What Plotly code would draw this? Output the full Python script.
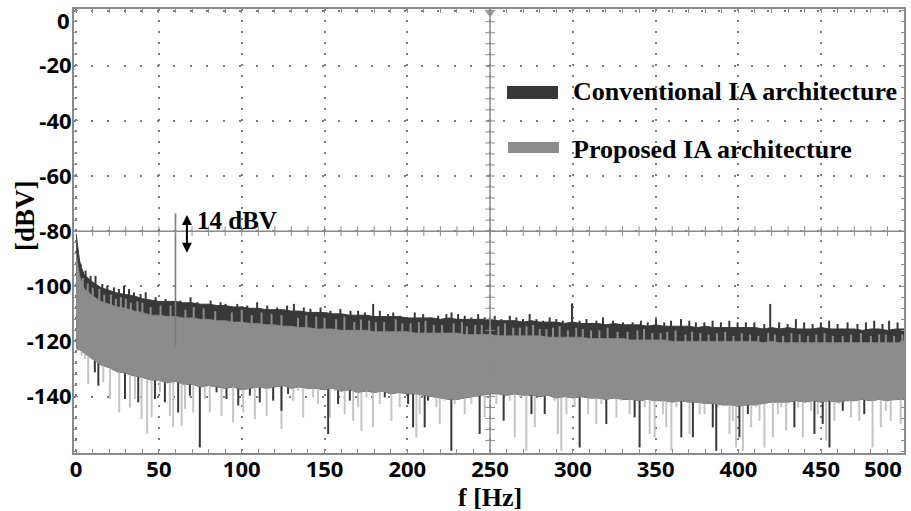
import plotly.graph_objects as go

# ---------------- data ----------------
freq = [0, 1, 2, 3, 4,
        5, 10, 15, 20, 25, 30, 35, 40, 45, 50,
        55, 60, 65, 70, 75, 80, 85, 90, 95, 100,
        105, 110, 115, 120, 125, 130, 135, 140, 145, 150,
        155, 160, 165, 170, 175, 180, 185, 190, 195, 200,
        205, 210, 215, 220, 225, 230, 235, 240, 245, 250,
        255, 260, 265, 270, 275, 280, 285, 290, 295, 300,
        305, 310, 315, 320, 325, 330, 335, 340, 345, 350,
        355, 360, 365, 370, 375, 380, 385, 390, 395, 400,
        405, 410, 415, 420, 425, 430, 435, 440, 445, 450,
        455, 460, 465, 470, 475, 480, 485, 490, 495, 500]

# bulk upper edge of the conventional IA spectrum (dBV)
conv_top = [-81, -87, -90.5, -93, -94.5,
            -96, -98.5, -100.5, -101.5, -102.5, -103, -103.5, -104.5, -105, -105.5,
            -105.5, -105.5, -106, -106, -106.5, -106.5, -107, -107, -107.5, -107.5,
            -108, -108, -108.5, -108.5, -108.5, -109, -109, -109.5, -109.5, -109.5,
            -110, -110, -110.5, -110.5, -110.5, -111, -111, -111, -111, -111.5,
            -111.5, -111.5, -111.5, -112, -111.5, -112, -112, -112, -112, -112,
            -112.5, -112.5, -112.5, -113, -112.5, -113, -113, -113, -113.5, -113,
            -113.5, -113.5, -113.5, -114, -113.5, -114, -114, -114, -114.5, -114,
            -114.5, -114.5, -114.5, -114.5, -115, -114.5, -115, -115, -115, -115,
            -115, -115, -115.5, -115, -115.5, -115, -115.5, -115.5, -115.5, -115,
            -115.5, -115.5, -115.5, -115.5, -116, -115.5, -115.5, -116, -115.5, -115.5]

# bulk upper edge of the proposed IA spectrum (dBV)
prop_top = [-88, -93, -96, -98, -99.5,
            -101, -103.5, -105.5, -106.5, -107.5, -108, -109, -109.5, -110.5, -110.5,
            -111, -111, -111.5, -111.5, -112, -112, -112.5, -112.5, -113, -113,
            -113.5, -113.5, -114, -114, -114.5, -114.5, -115, -115, -115.5, -115.5,
            -115.5, -116, -116, -116, -116, -116.5, -116.5, -116.5, -116.5, -116.5,
            -117, -117, -117, -117, -117, -117, -117.5, -117.5, -117.5, -117.5,
            -118, -118, -118, -118, -118, -118, -118.5, -118.5, -118.5, -118.5,
            -118.5, -119, -119, -119, -119, -119, -119.5, -119.5, -119.5, -119.5,
            -119.5, -120, -120, -120, -120, -120, -120, -120, -120, -120,
            -120, -120, -120.5, -120, -120.5, -120.5, -120.5, -120.5, -120.5, -120.5,
            -120.5, -120.5, -120.5, -120.5, -120.5, -120.5, -120.5, -120.5, -120.5, -120.5]

# lower dense edge of the noise floor (dBV)
prop_bot = [-122.5, -123, -123, -123.5, -124,
            -124.5, -126.5, -128.5, -129.5, -131, -131.5, -132.5, -133, -134, -134,
            -135, -134.5, -135.5, -135.5, -136.5, -136, -136.5, -137, -136.5, -137.5,
            -137, -136.5, -137, -136.5, -136, -137, -136.5, -137, -137, -137.5,
            -137, -138, -137.5, -138.5, -138, -138.5, -138, -139, -138.5, -139,
            -139, -139.5, -140, -140.5, -141, -141, -140.5, -140, -139.5, -139,
            -139, -139.5, -139, -139.5, -139.5, -140, -139.5, -140.5, -140, -140.5,
            -140, -140.5, -140.5, -141, -140.5, -141, -141, -141.5, -141, -141.5,
            -141.5, -142, -141.5, -142, -142, -142.5, -142.5, -143, -143, -143.5,
            -143, -143, -142.5, -142, -142, -142, -141.5, -142, -141.5, -142,
            -141.5, -142, -141.5, -141.5, -141, -141.5, -141, -141.5, -141, -141]

# upward bins of the conventional IA spectrum (incl. the 300 Hz / 419 Hz lines)
conv_up_f = [2.7, 5.7, 8.7, 11.7, 15.8, 18.8, 22.8, 25.8, 28.9, 31.9, 34.9, 38.9, 42, 48,
             54, 63, 69.1, 73.1, 81.2, 87.2, 90.2, 97.3, 103.3, 109.3, 115.4, 121.4, 127.4,
             131.5, 137.5, 141.5, 147.6, 153.6, 159.6, 165.7,
             170.3, 174.4, 179.4, 183.4, 188.4, 191.5, 195.5, 199.5, 204.5, 209.6, 213.6,
             218.6, 223.6, 226.7, 230.7, 234.7, 238.7, 242.8, 246.8, 252.8, 256.8, 261.9,
             265.9, 269.9, 273.9, 278, 282, 286, 290, 294, 299.5, 304.1, 308.2, 314.2,
             318.2, 324.2, 330.3,
             336.1, 341.1, 345.2, 350.2, 355.2, 359.3, 365.3, 370.3, 374.3, 379.4, 384.4,
             389.4, 394.5, 399.5, 404.5, 409.6, 415.6, 419.2, 424.6, 429.7, 434.7, 439.7,
             444.8, 449.8, 454.8, 459.9, 465.9, 471.9, 477, 482, 487, 491, 496.1]
conv_up_db = [-91.9, -94.3, -96.2, -96.2, -99.2, -99.8, -100.4, -101, -99.8, -101, -102.2,
              -102.8, -102.2, -104, -104.6, -105.2, -104, -105.8, -105.2, -105.8, -106.4,
              -106.4, -107, -105.8, -107, -107.7, -107, -106.4, -107.7, -108.2, -107.7,
              -108.9, -108.2, -108.9,
              -108.9, -109.5, -106.4, -108.9, -110.1, -109.5, -110.7, -111.3, -109.5, -110.1,
              -111.3, -110.7, -110.1, -109.5, -110.1, -110.7, -111.3, -110.1, -111.3, -110.7,
              -111.9, -110.7, -111.3, -111.9, -110.1, -111.9, -112.5, -111.3, -111.9, -112.5,
              -106.2, -112.5, -111.9, -112.5, -111.3, -112.5, -113.1,
              -113.1, -112.5, -113.1, -111.9, -113.1, -112.5, -111.9, -112.5, -113.1, -113.1,
              -112.5, -113.1, -112.5, -113.1, -113.1, -113.1, -113.7, -106.4, -113.1, -113.7,
              -111.9, -113.1, -113.7, -113.1, -112.5, -113.7, -113.1, -113.7, -113.1, -112.5,
              -113.7, -112.5, -113.1]

# upward bins of the proposed IA spectrum (grey strokes inside the dark band)
prop_up_f = [4, 7, 10, 14, 17, 21, 24, 27, 30, 33, 37, 40, 45, 51, 57, 66, 71, 77, 84, 94,
             100, 106, 112, 118, 124, 134, 139, 145, 150, 157, 162, 168, 172, 177, 181, 186,
             193, 197, 202, 207, 211, 216, 221, 228, 233, 236, 241, 245, 250, 255, 259, 264,
             268, 272, 276, 280, 284, 288, 292, 297, 302, 306, 311, 316, 321, 327, 333, 339,
             343, 348, 353, 357, 362, 368, 372, 377, 382, 387, 392, 397, 402, 407, 412, 418,
             422, 427, 432, 437, 442, 447, 452, 457, 463, 468, 474, 480, 485, 489, 494, 499]
prop_up_db = [-97, -99, -100.5, -101, -103, -103, -104.5, -104, -104.5, -106, -105.5,
              -106, -107.5, -107, -107, -108.5, -107.5, -108, -109, -109.5, -108.5, -110.5,
              -109.5, -110, -110.5, -111.5, -110.5, -111, -111.5, -112, -111, -113, -112,
              -112.5, -113, -113, -112, -113.5, -113.5, -113, -112.5, -114, -114, -113.5,
              -113, -114.5, -114, -114, -114.5, -114.5, -113.5, -115, -115, -114.5, -114,
              -115.5, -115.5, -115, -114.5, -116, -115, -115.5, -116, -116, -115, -116.5,
              -116.5, -116, -115.5, -117, -117, -116.5, -116, -117.5, -116.5, -117, -117.5,
              -117, -116.5, -118, -117, -117.5, -118, -117, -117.5, -118, -117, -117.5,
              -118, -117.5, -117, -118, -118, -117.5, -117, -118, -117.5, -117.5, -118,
              -117.5]

# deep downward bins, conventional IA (dark)
conv_dip_f = [11.3, 13.4, 29.5, 37.5, 47.6, 53.6, 61.6, 68.7, 74.7, 84.8, 90.8, 97.9,
              104.9, 110.9, 119, 124, 128, 141.1, 152.2, 158.2, 165.3, 178.3, 186.4,
              198.5, 200.5, 203.5, 210.5, 212.5, 216.6, 224.6, 226.6, 236.7, 243.7,
              251.8, 258.2, 260.9, 275, 283, 286, 304.1, 320.2, 332.3, 337.3, 340.3,
              365.5, 372.5, 374.5, 382.5, 384.5, 386.6, 390.6, 400.6, 405.7, 417.7,
              433.8, 445.9, 450.9, 455, 463, 476]
conv_dip_db = [-131.2, -136.1, -140.9, -142.1, -140.9, -142.1, -145.8, -139.7, -158.5,
               -138.5, -140.9, -143.3, -139.7, -142.1, -141.5, -145.2, -139.1, -134.3,
               -153.6, -142.7, -141.5, -134.3, -140.3, -137.9, -142.7, -151.2, -151.2,
               -141.5, -134.3, -137.9, -159.7, -137.9, -153.6, -139.1, -148.8, -135.5,
               -146.4, -146.4, -135.5, -158.5, -150, -135.5, -147.6, -158.5, -154.8,
               -154.8, -137.9, -142.7, -151.2, -159.7, -136.7, -154.8, -146.4, -139.1,
               -151.2, -153.6, -150, -158.5, -145.2, -146.4]

# deep downward bins, proposed IA (light)
prop_dip_f = [3.3, 5.3, 7.3, 16.4, 20.4, 26.0, 32.5, 35.5, 39.5, 42.9, 45.6, 50.6,
              56.6, 58.6, 63.7, 65.7, 70.7, 77.7, 80.7, 87.8, 94.8, 100.9, 107.9, 115,
              124, 131.1, 134.1, 137.1, 143.1, 146.1, 149.2, 153.2, 156.2, 160.2,
              162.2, 167.3, 170.3, 172.3, 175.3, 179.3, 183.4, 188.4, 190.4, 195.4,
              205.5, 207.5, 217.6, 219.6, 222.6, 228.6, 231.7, 234.7, 238.7, 241.7,
              246.7, 253.8, 255.8, 261.9, 264.9, 267.9, 270.9, 271.9, 277, 280, 289,
              291, 293, 296.1, 298.1, 301.1, 306.1, 309.2, 312.2, 314.2, 317.2, 323.2,
              326.3, 329.3, 334.3, 343.4, 346.4, 349.4, 351.4, 354.4, 356.4, 359.5,
              362.5, 368.5, 370.5, 376.6, 377.5, 379.5, 387.6, 391.6, 394.6, 396.6,
              398.6, 402.7, 407.7, 410.7, 412.7, 415.7, 420.8, 423.8, 425.8, 428.8,
              430.8, 435.9, 438.9, 440.9, 443.9, 447.9, 453, 458, 461, 466, 468, 471,
              473, 478, 481, 483, 486, 489, 492, 495, 498]
prop_dip_db = [-125.2, -126.4, -135.5, -134.9, -140.9, -145.8, -144, -140.9, -148.2,
               -153.6, -147.6, -138.5, -147, -151.2, -150.6, -144.5, -145.8, -140.9,
               -145.8, -147, -149.4, -145.8, -148.2, -147, -151.8, -141.5, -137.9,
               -147.6, -140.3, -142.7, -134.3, -147.6, -137.9, -136.7, -146.4, -148.8,
               -143.9, -152.4, -140.3, -151.2, -142.7, -135.5, -148.8, -143.9, -154.8,
               -146.4, -143.9, -150, -141.5, -142.7, -140.3, -146.4, -142.7, -140.3,
               -147.6, -142.7, -139.1, -141.5, -154.8, -140.3, -137.9, -159.7, -151.2,
               -136.7, -141.5, -153.6, -159.7, -146.4, -140.3, -143.9, -139.1, -146.4,
               -137.9, -150, -142.7, -140.3, -147.6, -141.5, -146.4, -143.9, -153.6,
               -154.8, -141.5, -146.4, -151.2, -159.7, -143.9, -141.5, -153.6, -146.4,
               -141.5, -146.4, -143.9, -141.5, -153.6, -148.8, -158.5, -159.7, -151.2,
               -143.9, -148.8, -158.5, -154.8, -146.4, -143.9, -152.4, -140.3, -143.9,
               -154.8, -140.3, -145.2, -146.4, -156, -148.8, -142.7, -140.3, -147.6,
               -139.1, -148.8, -140.3, -158.5, -141.5, -151.2, -145.2, -148.8, -141.5,
               -150]

# 60 Hz interference tone
tone_f = [60]
tone_db = [-73.6]

x_ticks = [0, 50, 100, 150, 200, 250, 300, 350, 400, 450, 500]
y_ticks = [0, -20, -40, -60, -80, -100, -120, -140]

# ---------------- styling constants ----------------
DARK = "#383838"
GRAY = "#8c8c8c"
LIGHT = "#c4c4c4"
FRAME = "#8a8a8a"
SPIKE_BASE = -122  # lies inside the grey body, hidden under it
W, H = 911, 511
ML, MR, MT, MB = 74, 7, 9, 58
PW, PH = W - ML - MR, H - MT - MB


def px(xp):
    return (xp - ML) / PW


def py(yp):
    return 1 - (yp - MT) / PH


def segs(fs, tips, base):
    xs, ys = [], []
    for f, t in zip(fs, tips):
        xs += [f, f, None]
        ys += [base, t, None]
    return xs, ys


def stroke_trace(fs, tips, color, width):
    xs, ys = segs(fs, tips, SPIKE_BASE)
    return go.Scatter(x=xs, y=ys, mode="lines", line=dict(color=color, width=width),
                      hoverinfo="skip", showlegend=False)


fig = go.Figure()

fig.add_trace(stroke_trace(conv_up_f, conv_up_db, DARK, 2))
fig.add_trace(go.Scatter(x=freq + freq[::-1], y=conv_top + prop_bot[::-1], fill="toself",
                         fillcolor=DARK, mode="lines", line=dict(color=DARK, width=1),
                         name="Conventional IA architecture", showlegend=False))
fig.add_trace(stroke_trace(prop_up_f, prop_up_db, GRAY, 2))
fig.add_trace(stroke_trace(prop_dip_f, prop_dip_db, LIGHT, 2))
fig.add_trace(stroke_trace(conv_dip_f, conv_dip_db, DARK, 2))
fig.add_trace(go.Scatter(x=freq + freq[::-1], y=prop_top + prop_bot[::-1], fill="toself",
                         fillcolor=GRAY, mode="lines", line=dict(color=GRAY, width=0.8),
                         name="Proposed IA architecture", showlegend=False))
fig.add_trace(stroke_trace(tone_f, tone_db, "#7a7a7a", 1.6))

# centre cross-hair tick marks
fig.add_trace(go.Scatter(x=list(range(10, 500, 10)), y=[-80] * 49, mode="markers",
                         marker=dict(symbol="line-ns", size=7, line=dict(color=FRAME, width=1)),
                         hoverinfo="skip", showlegend=False))
fig.add_trace(go.Scatter(x=[250] * 39, y=list(range(-156, 0, 4)), mode="markers",
                         marker=dict(symbol="line-ew", size=7, line=dict(color=FRAME, width=1)),
                         hoverinfo="skip", showlegend=False))
fig.add_trace(go.Scatter(x=[250], y=[-0.6], mode="markers", cliponaxis=False,
                         marker=dict(symbol="triangle-down", size=10, color="#9a9a9a"),
                         hoverinfo="skip", showlegend=False))

# centre lines
fig.add_shape(type="line", x0=250, x1=250, y0=0, y1=1, xref="x", yref="paper",
              line=dict(color=FRAME, width=1.5), layer="above")
fig.add_shape(type="line", x0=0, x1=1, y0=-80, y1=-80, xref="paper", yref="y",
              line=dict(color=FRAME, width=1.5), layer="above")

# legend
fig.add_shape(type="rect", x0=px(507), x1=px(558), y0=py(99), y1=py(86), xref="paper", yref="paper",
              fillcolor=DARK, line=dict(width=0))
fig.add_shape(type="rect", x0=px(508), x1=px(559), y0=py(153), y1=py(142), xref="paper", yref="paper",
              fillcolor=GRAY, line=dict(width=0))
serif = "Liberation Serif"
fig.add_annotation(x=px(571), y=py(92), xref="paper", yref="paper", xanchor="left", yanchor="middle",
                   text="<b>Conventional IA architecture</b>", showarrow=False,
                   font=dict(family=serif, size=26, color="black"))
fig.add_annotation(x=px(571), y=py(149), xref="paper", yref="paper", xanchor="left", yanchor="middle",
                   text="<b>Proposed IA architecture</b>", showarrow=False,
                   font=dict(family=serif, size=26, color="black"))

# 14 dBV marker
fig.add_annotation(x=66.9, y=-87.8, ax=66.9, ay=-73.6, xref="x", yref="y", axref="x", ayref="y",
                   text="", showarrow=True, arrowhead=2, startarrowhead=2, arrowside="end+start",
                   arrowwidth=2, arrowsize=1, arrowcolor="black", startarrowsize=1)
fig.add_annotation(x=72, y=-76.2, xref="x", yref="y", xanchor="left", yanchor="middle",
                   text="<b>14 dBV</b>", showarrow=False, font=dict(family=serif, size=25, color="black"))

# axis titles
fig.add_annotation(x=px(490), y=py(497), xref="paper", yref="paper", xanchor="center", yanchor="middle",
                   text="<b>f [Hz]</b>", showarrow=False, font=dict(family=serif, size=26, color="black"))
fig.add_annotation(x=px(25), y=py(216), xref="paper", yref="paper", xanchor="center", yanchor="middle",
                   text="<b>[dBV]</b>", textangle=-90,
                   showarrow=False, font=dict(family=serif, size=27, color="black"))

tickfont = dict(family="Open Sans", size=22, color="black", weight="bold")
# labels placed by hand where the original shifts them
fig.add_annotation(x=500, y=0, xref="x", yref="paper", xanchor="right", yanchor="top", yshift=2,
                   text=str(x_ticks[-1]), showarrow=False, font=tickfont)
fig.add_annotation(x=0, y=y_ticks[0], xref="paper", yref="y", xanchor="right", yanchor="middle",
                   xshift=-2, yshift=-9, text=str(y_ticks[0]), showarrow=False, font=tickfont)

fig.update_layout(
    width=W, height=H, margin=dict(l=ML, r=MR, t=MT, b=MB, autoexpand=False),
    paper_bgcolor="white", plot_bgcolor="white", showlegend=False,
    xaxis=dict(range=[-1.3, 500], tickvals=x_ticks, automargin=False,
               ticktext=[str(v) for v in x_ticks[:-1]] + [""], ticklabelstandoff=-4,
               showgrid=True, gridcolor="#7c7c7c", gridwidth=1.6, griddash="2px,9px",
               showline=True, linecolor=FRAME, linewidth=2, mirror="allticks",
               ticks="inside", ticklen=4, tickcolor=FRAME, tickfont=tickfont,
               minor=dict(dtick=10, tick0=0, ticks="inside", ticklen=4, tickcolor=FRAME, showgrid=False),
               zeroline=False),
    yaxis=dict(range=[-160.5, 0.6], tickvals=y_ticks, automargin=False,
               ticktext=[""] + [str(v) for v in y_ticks[1:]], ticklabelstandoff=-4,
               showgrid=True, gridcolor="#7c7c7c", gridwidth=1.6, griddash="2px,14.5px",
               showline=True, linecolor=FRAME, linewidth=2, mirror="allticks",
               ticks="inside", ticklen=4, tickcolor=FRAME, tickfont=tickfont,
               minor=dict(dtick=4, tick0=0, ticks="inside", ticklen=3, tickcolor=FRAME, showgrid=False),
               zeroline=False),
)

fig.write_html("out.html", config={"displayModeBar": False},
               post_script="document.body.style.margin='0';document.body.style.padding='0';"
                           "document.body.style.overflow='hidden';")
